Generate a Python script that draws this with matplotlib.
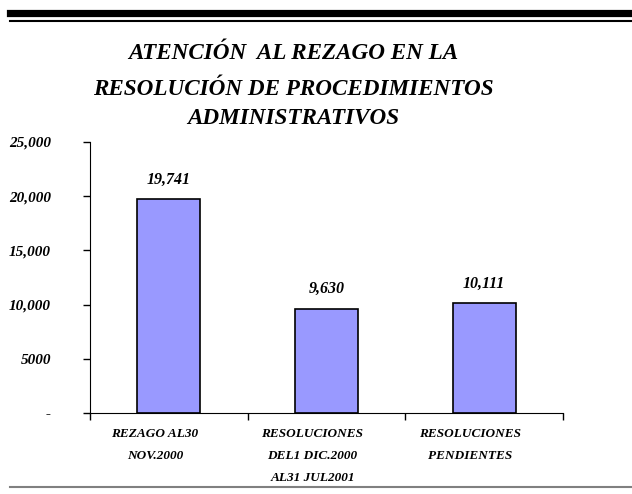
import numpy as np
import matplotlib
matplotlib.use('Agg')
import matplotlib.pyplot as plt
from matplotlib.lines import Line2D
from matplotlib.transforms import ScaledTranslation

categories = ['REZAGO AL30\nNOV.2000',
              'RESOLUCIONES\nDEL1 DIC.2000\nAL31 JUL2001',
              'RESOLUCIONES\nPENDIENTES']
values = [19741, 9630, 10111]
value_labels = ['19,741', '9,630', '10,111']
yticks = [0, 5000, 10000, 15000, 20000, 25000]
ytick_labels = ['-', '5000', '10,000', '15,000', '20,000', '25,000']
title_lines = ['ATENCIÓN  AL REZAGO EN LA',
               'RESOLUCIÓN DE PROCEDIMIENTOS',
               'ADMINISTRATIVOS']

plt.rcParams['font.family'] = ['Liberation Serif', 'DejaVu Serif']
plt.rcParams['font.weight'] = 'bold'
plt.rcParams['font.style'] = 'italic'


def main():
    fig = plt.figure(figsize=(6.32, 4.94), dpi=100)
    ax = fig.add_axes([0.1424, 0.164, 0.7484, 0.5486])

    x = np.arange(len(values))
    ax.bar(x, values, width=0.4, color='#9999FF', edgecolor='black', linewidth=1.2)
    ax.set_xlim(-0.5, len(values) - 0.5)
    ax.set_ylim(0, 25000)

    # data labels above bars
    for xi, v, lab in zip(x, values, value_labels):
        ax.annotate(lab, (xi, v), xytext=(0, 11), textcoords='offset points',
                    ha='center', va='baseline', fontsize=11.5,
                    fontweight='bold', fontstyle='italic')

    ax.set_yticks(yticks)
    ax.set_yticklabels(ytick_labels, fontsize=11)
    ax.tick_params(axis='y', direction='out', length=5, width=1, pad=23)

    # category boundary ticks
    ax.set_xticks(np.arange(-0.5, len(values)), minor=True)
    ax.set_xticks([])
    ax.tick_params(axis='x', which='minor', direction='out', length=5, width=1)

    shift = ScaledTranslation(-14 / 100, 0, fig.dpi_scale_trans)
    for xi, cat in zip(x, categories):
        ax.text(xi, -0.055, cat, transform=ax.get_xaxis_transform() + shift,
                ha='center', va='top', fontsize=9.5, linespacing=2.1)

    for s in ['top', 'right']:
        ax.spines[s].set_visible(False)

    # title, one line at a time
    for ypix, line in zip([59, 95, 124], title_lines):
        fig.text(293 / 632, 1 - ypix / 494, line, ha='center', va='baseline',
                 fontsize=16.7)

    # decorative rules
    fig.add_artist(Line2D([10 / 632, 1], [1 - 13.5 / 494] * 2, color='black', lw=5.2))
    fig.add_artist(Line2D([10 / 632, 1], [1 - 21 / 494] * 2, color='black', lw=1.5))
    fig.add_artist(Line2D([10 / 632, 1], [1 - 487 / 494] * 2, color='#808080', lw=1.5))

    fig.savefig('out.png', dpi=100)


if __name__ == '__main__':
    main()
